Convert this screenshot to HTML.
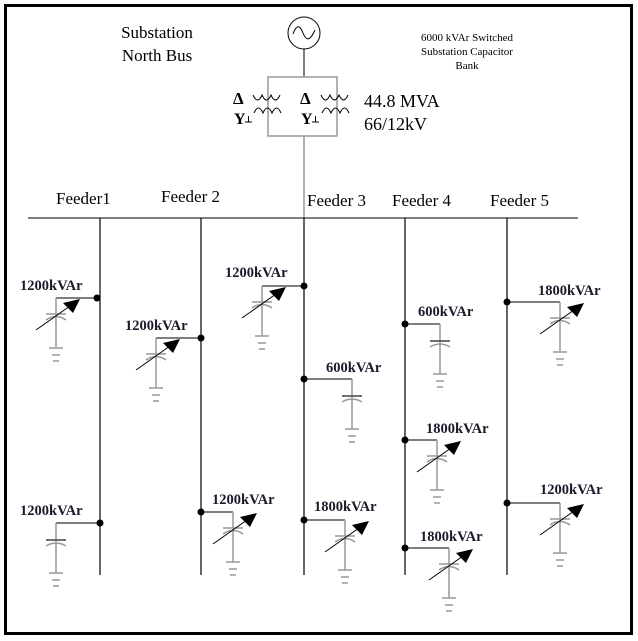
<!DOCTYPE html>
<html><head><style>
html,body{margin:0;padding:0;background:#fff;}
svg{display:block}
text{font-family:"Liberation Serif",serif;}
.b{font-weight:bold;font-size:14.5px;fill:#1a1a2a}
</style></head><body>
<svg width="638" height="641" viewBox="0 0 638 641" xmlns="http://www.w3.org/2000/svg">
<defs>
<g id="vc">
  <line x1="0" y1="0" x2="0" y2="50" stroke="#999" stroke-width="1.5"/>
  <line x1="-10" y1="16" x2="10" y2="16" stroke="#999" stroke-width="1.5"/>
  <path d="M-10 22 Q0 15 10 22" fill="none" stroke="#999" stroke-width="1.5"/>
  <line x1="-7" y1="50" x2="7" y2="50" stroke="#999" stroke-width="1.5"/>
  <line x1="-4" y1="57" x2="4" y2="57" stroke="#999" stroke-width="1.5"/>
  <line x1="-3" y1="63" x2="3" y2="63" stroke="#999" stroke-width="1.5"/>
  <line x1="-20" y1="32" x2="14" y2="8" stroke="#000" stroke-width="1"/>
  <polygon points="7,5 24,1 17,15" fill="#000"/>
</g>
<g id="fc">
  <line x1="0" y1="0" x2="0" y2="50" stroke="#999" stroke-width="1.5"/>
  <line x1="-10" y1="17" x2="10" y2="17" stroke="#444" stroke-width="1.5"/>
  <path d="M-10 23 Q0 17 10 23" fill="none" stroke="#999" stroke-width="1.5"/>
  <line x1="-7" y1="50" x2="7" y2="50" stroke="#999" stroke-width="1.5"/>
  <line x1="-4" y1="57" x2="4" y2="57" stroke="#999" stroke-width="1.5"/>
  <line x1="-3" y1="63" x2="3" y2="63" stroke="#999" stroke-width="1.5"/>
</g>
</defs>
<rect x="5.5" y="5.5" width="626" height="628" fill="none" stroke="#000" stroke-width="3"/>
<!-- source -->
<circle cx="304" cy="33" r="16" fill="none" stroke="#000" stroke-width="1"/>
<path d="M293 34 Q298 20 303 33 Q308 46 315 30" fill="none" stroke="#000"/>
<line x1="304" y1="49" x2="304" y2="77" stroke="#000"/>
<rect x="268" y="77" width="69" height="59" fill="none" stroke="#999" stroke-width="1.5"/>
<line x1="304" y1="136" x2="304" y2="218" stroke="#999" stroke-width="1.5"/>
<!-- transformers -->
<text x="233" y="104" font-size="17" font-weight="bold">Δ</text>
<text x="234" y="124" font-size="16" font-weight="bold">Y</text>
<path d="M245 122 h7 M248.5 116 v6" stroke="#000" fill="none"/>
<path d="M253 95 q4.5 10 9 0 q4.5 10 9 0 q4.5 10 9 0" fill="none" stroke="#000"/>
<path d="M254 113 q4.5 -10 9 0 q4.5 -10 9 0 q4.5 -10 9 0" fill="none" stroke="#000"/>
<text x="300" y="104" font-size="17" font-weight="bold">Δ</text>
<text x="301" y="124" font-size="16" font-weight="bold">Y</text>
<path d="M312 122 h7 M315.5 116 v6" stroke="#000" fill="none"/>
<path d="M321 95 q4.5 10 9 0 q4.5 10 9 0 q4.5 10 9 0" fill="none" stroke="#000"/>
<path d="M322 113 q4.5 -10 9 0 q4.5 -10 9 0 q4.5 -10 9 0" fill="none" stroke="#000"/>
<text x="157" y="38" font-size="17" text-anchor="middle">Substation</text>
<text x="157" y="61" font-size="17" text-anchor="middle">North Bus</text>
<text x="467" y="41" font-size="11" text-anchor="middle">6000 kVAr Switched</text>
<text x="467" y="55" font-size="11" text-anchor="middle">Substation Capacitor</text>
<text x="467" y="69" font-size="11" text-anchor="middle">Bank</text>
<text x="364" y="107" font-size="18">44.8 MVA</text>
<text x="364" y="130" font-size="18">66/12kV</text>
<!-- bus & feeders -->
<line x1="28" y1="218" x2="578" y2="218" stroke="#000"/>
<text x="56" y="204" font-size="17">Feeder1</text>
<text x="161" y="202" font-size="17">Feeder 2</text>
<text x="307" y="206" font-size="17">Feeder 3</text>
<text x="392" y="206" font-size="17">Feeder 4</text>
<text x="490" y="206" font-size="17">Feeder 5</text>
<g stroke="#000" stroke-width="1.2">
<line x1="100" y1="218" x2="100" y2="575"/>
<line x1="201" y1="218" x2="201" y2="575"/>
<line x1="304" y1="218" x2="304" y2="575"/>
<line x1="405" y1="218" x2="405" y2="575"/>
<line x1="507" y1="218" x2="507" y2="575"/>
</g>
<g stroke="#555" stroke-width="1.5">
<line x1="56" y1="298" x2="97" y2="298"/>
<line x1="156" y1="338" x2="201" y2="338"/>
<line x1="262" y1="286" x2="304" y2="286"/>
<line x1="507" y1="302" x2="560" y2="302"/>
<line x1="405" y1="440" x2="437" y2="440"/>
<line x1="507" y1="503" x2="560" y2="503"/>
<line x1="201" y1="512" x2="233" y2="512"/>
<line x1="304" y1="520" x2="345" y2="520"/>
<line x1="405" y1="548" x2="449" y2="548"/>
<line x1="56" y1="523" x2="100" y2="523"/>
<line x1="304" y1="379" x2="352" y2="379"/>
<line x1="405" y1="324" x2="440" y2="324"/>
</g>
<use href="#vc" x="56" y="298"/>
<use href="#vc" x="156" y="338"/>
<use href="#vc" x="262" y="286"/>
<use href="#vc" x="560" y="302"/>
<use href="#vc" x="437" y="440"/>
<use href="#vc" x="560" y="503"/>
<use href="#vc" x="233" y="512"/>
<use href="#vc" x="345" y="520"/>
<use href="#vc" x="449" y="548"/>
<use href="#fc" x="56" y="523"/>
<use href="#fc" x="352" y="379"/>
<use href="#fc" x="440" y="324"/>
<g fill="#000">
<circle cx="97" cy="298" r="3.5"/><circle cx="201" cy="338" r="3.5"/><circle cx="304" cy="286" r="3.5"/>
<circle cx="507" cy="302" r="3.5"/><circle cx="405" cy="440" r="3.5"/><circle cx="507" cy="503" r="3.5"/>
<circle cx="201" cy="512" r="3.5"/><circle cx="304" cy="520" r="3.5"/><circle cx="405" cy="548" r="3.5"/>
<circle cx="100" cy="523" r="3.5"/><circle cx="304" cy="379" r="3.5"/><circle cx="405" cy="324" r="3.5"/>
</g>
<text class="b" x="20" y="290">1200kVAr</text>
<text class="b" x="125" y="330">1200kVAr</text>
<text class="b" x="225" y="277">1200kVAr</text>
<text class="b" x="538" y="295">1800kVAr</text>
<text class="b" x="426" y="433">1800kVAr</text>
<text class="b" x="540" y="494">1200kVAr</text>
<text class="b" x="212" y="504">1200kVAr</text>
<text class="b" x="314" y="511">1800kVAr</text>
<text class="b" x="420" y="541">1800kVAr</text>
<text class="b" x="20" y="515">1200kVAr</text>
<text class="b" x="326" y="372">600kVAr</text>
<text class="b" x="418" y="316">600kVAr</text>
</svg>
</body></html>
